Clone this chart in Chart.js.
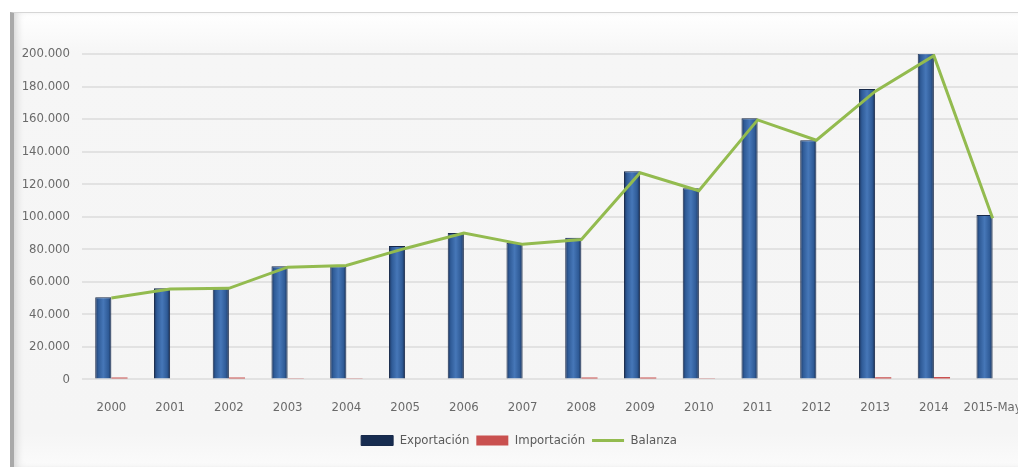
<!DOCTYPE html>
<html lang="es">
<head>
<meta charset="UTF-8">
<title>Exportación / Importación / Balanza</title>
<script src="https://cdn.jsdelivr.net/npm/chart.js"></script>
<style>
  html, body { margin: 0; padding: 0; background: #fff; overflow: hidden; }
  body { width: 1018px; height: 470px; position: relative; }
  #frame {
    position: absolute; left: 10px; top: 12px; width: 1020px; height: 454px;
    border-top: 1px solid #d6d6d6;
    border-left: 4px solid #a9a9a9;
    background: linear-gradient(180deg, #ffffff 0px, #f6f6f6 40px, #f5f5f5 420px, #fbfbfb 454px);
    box-shadow: inset 6px 0 8px -4px #d0d0d0;
  }
  #wrap { position: absolute; left: 0; top: 0; width: 1048px; height: 470px; }
</style>
</head>
<body>
<div id="frame"></div>
<div id="wrap"><canvas id="chart"></canvas></div>
<script>
  var years = ['2000', '2001', '2002', '2003', '2004', '2005', '2006', '2007',
               '2008', '2009', '2010', '2011', '2012', '2013', '2014', '2015-May'];
  var exportacion = [50500, 56000, 56000, 69500, 69500, 82000, 90000, 84000,
                     87000, 128000, 117500, 160500, 147000, 178500, 200500, 101000];
  var importacion = [1200, 500, 1100, 400, 400, 500, 600, 500,
                     1200, 1100, 700, 600, 600, 1300, 1400, 600];
  var balanza = [50000, 55500, 56000, 69000, 70000, 80500, 90000, 83000,
                 86000, 127000, 116000, 159500, 147000, 177000, 199000, 99000];

  var catPct = 0.55;

  // horizontal shading for the blue columns: dark edges, lighter middle
  function barFill(ctx) {
    var chart = ctx.chart;
    var x = chart.scales.x;
    if (!chart.chartArea || !x || ctx.dataIndex === undefined) return '#2f5b97';
    var cw = x.width / years.length;
    var c = x.getPixelForValue(ctx.dataIndex);
    var left = c - cw * catPct / 2;
    var g = chart.ctx.createLinearGradient(left, 0, c, 0);
    g.addColorStop(0, '#1b335c');
    g.addColorStop(0.18, '#2f5b97');
    g.addColorStop(0.5, '#4677b8');
    g.addColorStop(0.82, '#2f5b97');
    g.addColorStop(1, '#172c50');
    return g;
  }

  Chart.defaults.font.family = '"Liberation Sans Narrow", "DejaVu Sans Condensed", "Open Sans", sans-serif';
  Chart.defaults.color = '#6a6a6a';

  new Chart(document.getElementById('chart'), {
    type: 'bar',
    data: {
      labels: years,
      datasets: [
        {
          type: 'line',
          label: 'Balanza',
          data: balanza,
          borderColor: '#93bb4f',
          backgroundColor: '#93bb4f',
          borderWidth: 3,
          pointRadius: 0,
          pointStyle: 'line',
          tension: 0,
          order: 0
        },
        {
          label: 'Exportación',
          data: exportacion,
          backgroundColor: barFill,
          borderColor: '#17294a',
          borderWidth: 1,
          pointStyle: 'rect',
          categoryPercentage: catPct,
          barPercentage: 1,
          order: 1
        },
        {
          label: 'Importación',
          data: importacion,
          backgroundColor: '#c9504f',
          borderWidth: 0,
          pointStyle: 'rect',
          categoryPercentage: catPct,
          barPercentage: 1,
          order: 2
        }
      ]
    },
    options: {
      responsive: true,
      maintainAspectRatio: false,
      animation: false,
      layout: { padding: { left: 16, top: 54, right: 26, bottom: 13 } },
      plugins: {
        legend: {
          position: 'bottom',
          labels: {
            usePointStyle: true,
            pointStyleWidth: 32,
            boxHeight: 10,
            color: '#5a5a5a',
            font: { size: 13 },
            padding: 7,
            sort: function (a, b) {
              var ord = { 'Exportación': 0, 'Importación': 1, 'Balanza': 2 };
              return ord[a.text] - ord[b.text];
            }
          }
        },
        tooltip: { enabled: false }
      },
      scales: {
        x: {
          grid: { display: false },
          border: { display: false },
          ticks: { color: '#6a6a6a', font: { size: 13 }, padding: 12, maxRotation: 0, autoSkip: false }
        },
        y: {
          min: 0,
          max: 200000,
          afterFit: function (s) { s.width = 66; },
          grid: { color: '#e2e2e2', lineWidth: 2, drawTicks: false },
          border: { display: false },
          ticks: {
            stepSize: 20000,
            padding: 12,
            color: '#6a6a6a',
            font: { size: 13 },
            callback: function (v) { return v.toLocaleString('de-DE'); }
          }
        }
      }
    }
  });
</script>
</body>
</html>
